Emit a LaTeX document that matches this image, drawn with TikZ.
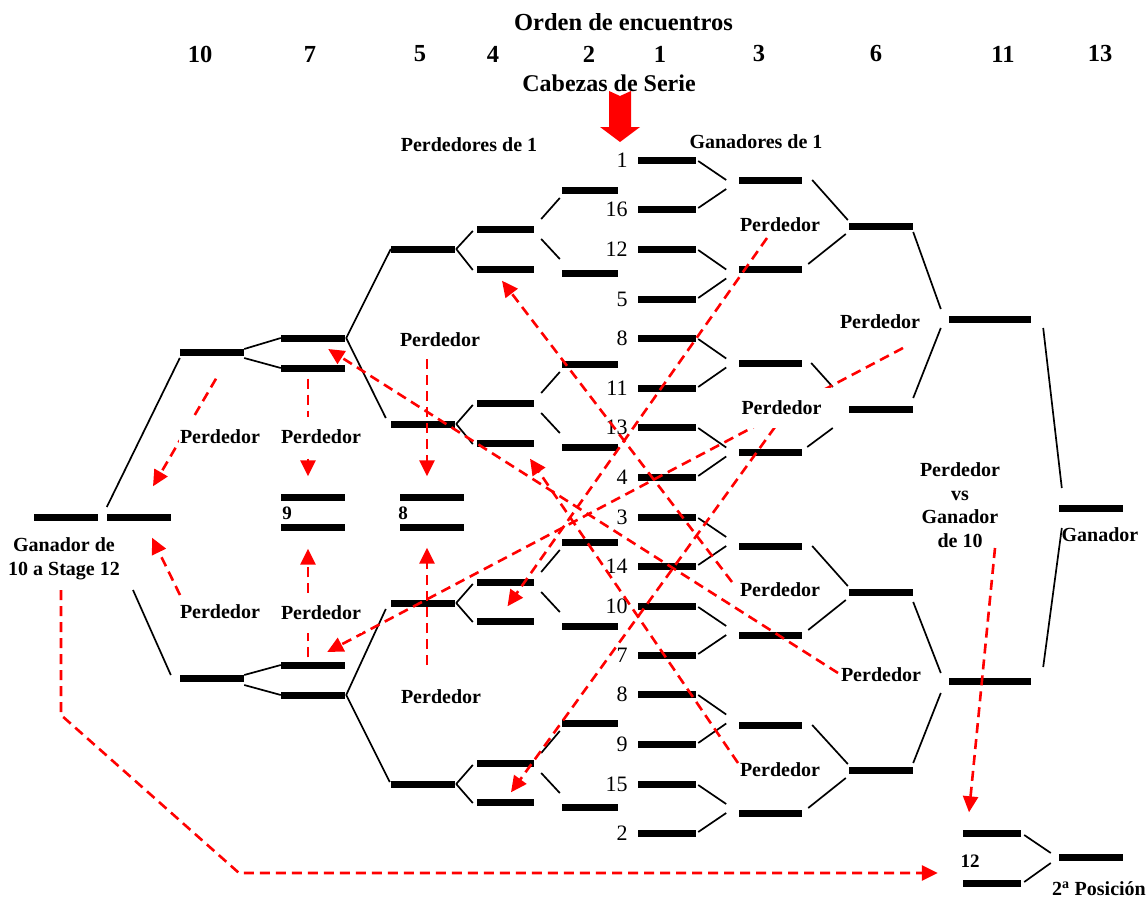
\documentclass[tikz,border=0pt]{standalone}
\usepackage{fontspec}
\setmainfont{Liberation Serif}
\usetikzlibrary{arrows.meta,calc}
\begin{document}
\begin{tikzpicture}[x=1pt,y=-1pt,
 bar/.style={fill=black,draw=none,inner sep=0pt,minimum height=7pt,minimum width=#1},
 bar/.default=64pt,
 conn/.style={line width=1.7pt},
 rd/.style={draw=red,line width=2.6pt,dash pattern=on 10pt off 6pt,-{Triangle[length=16pt,width=15pt,fill=red]}},
 lbl/.style={font=\fontsize{20}{23.5}\selectfont\bfseries,inner sep=1.5pt},
 wlbl/.style={lbl,fill=white},
 seed/.style={font=\fontsize{22}{24}\selectfont,inner sep=0pt},
 hdr/.style={font=\fontsize{24.5}{28}\selectfont\bfseries,inner sep=0pt}]
\useasboundingbox (0,0) rectangle (1148,899);

% ---------- headers ----------
\node[hdr] (title) at (623.5,22) {Orden de encuentros};
\foreach \x/\t [count=\i] in {200/10,310/7,420/5,493/4,589/2,660/1,759/3,876/6,1003/11,1100/13}
  \node[hdr] (h\i) at (\x,54) {\t};
\node[hdr,font=\fontsize{24}{28}\selectfont\bfseries] (cab) at (609,83) {Cabezas de Serie};
\fill[red] (609,91) -- (620,96) -- (631,91) -- (631,127) -- (640,127) -- (620,142) -- (600,127) -- (609,127) -- cycle;
\node[lbl] (perd1) at (469,145) {Perdedores de 1};
\node[lbl] (gan1) at (756,142) {Ganadores de 1};

% ---------- seeds ----------
\foreach \y/\t [count=\i] in {160/1,209/16,249/12,299/5,338/8,388/11,427/13,477/4,517/3,566/14,606/10,655/7,694/8,744/9,784/15,833/2}{
  \node[bar=58pt] (s\i) at (667,\y) {};
  \node[seed,anchor=east] (ns\i) at ($(s\i.west)+(-10,0)$) {\t};
}
% ---------- winners bracket ----------
\foreach \y [count=\i] in {180,269,363,452,546,635,725,813}
  \node[bar=63pt] (A\i) at (770.5,\y) {};
\foreach \y [count=\i] in {226,409,592,770}
  \node[bar] (B\i) at (881,\y) {};
\node[bar=82pt] (C1) at (990,319) {};
\node[bar=82pt] (C2) at (990,681) {};
\node[bar] (D) at (1091,508) {};
\node[bar=58pt] (F1) at (992,833) {};
\node[bar=58pt] (F2) at (992,883) {};
\node[bar] (P2) at (1091,857) {};

% ---------- losers bracket ----------
\foreach \y [count=\i] in {190,273,364,447,542,626,723,807}
  \node[bar=56pt] (p\i) at (590,\y) {};
\foreach \y [count=\i] in {229,269,403,443,582,621,763,802}
  \node[bar=57pt] (q\i) at (505.5,\y) {};
\foreach \y [count=\i] in {249,424,603,784}
  \node[bar] (r\i) at (423,\y) {};
\foreach \y [count=\i] in {338,368,665,695}
  \node[bar] (t\i) at (313,\y) {};
\node[bar] (u1) at (212,352) {};
\node[bar] (u2) at (212,678) {};
\node[bar] (G1) at (66,517) {};
\node[bar] (G2) at (139,517) {};
\node[bar] (m9a) at (313,497) {};
\node[bar] (m9b) at (313,527) {};
\node[bar] (m8a) at (432,497) {};
\node[bar] (m8b) at (432,527) {};

% ---------- black connectors ----------
\foreach \k/\a/\b in {1/1/2,2/3/4,3/5/6,4/7/8,5/9/10,6/11/12,7/13/14,8/15/16}{
  \draw[conn] ($(s\a.east)+(2,1)$) -- ($(s\a.east)!.5!(s\b.east)+(30,-4.5)$);
  \draw[conn] ($(s\b.east)+(2,-1)$) -- ($(s\a.east)!.5!(s\b.east)+(30,4.5)$);
}
\foreach \k/\a/\b in {1/1/2,3/5/6,4/7/8}{
  \draw[conn] ($(A\a.east)+(10,0)$) -- ($(B\k.west)+(-1,-6)$);
  \draw[conn] ($(A\b.east)+(6,-5)$) -- ($(B\k.west)+(-3,8)$);
}
\draw[conn] ($(A3.east)+(9,0)$) -- ($(B2.west)+(-16,-22)$);
\draw[conn] ($(A4.east)+(5,-5)$) -- ($(B2.west)+(-16,19)$);
\draw[conn] ($(B1.east)+(0,6)$) -- ($(C1.west)+(-8,-10)$);
\draw[conn] ($(B2.east)+(0,-11)$) -- ($(C1.west)+(-8,9)$);
\draw[conn] ($(B3.east)+(0,10)$) -- ($(C2.west)+(-8,-8)$);
\draw[conn] ($(B4.east)+(0,-7)$) -- ($(C2.west)+(-8,12)$);
\draw[conn] ($(C1.east)+(12,9)$) -- ($(D.west)+(3,-20)$);
\draw[conn] ($(C2.east)+(12,-14)$) -- ($(D.west)+(3,20)$);
\draw[conn] ($(F1.east)+(3,2)$) -- ($(P2.west)+(-8,-4)$);
\draw[conn] ($(F2.east)+(3,-1)$) -- ($(P2.west)+(-8,6)$);

\foreach \w/\a/\b in {1/1/2,3/3/4,5/5/6,7/7/8}{
  \draw[conn] ($(q\w.east)+(7,-10)$) -- ($(p\a.west)+(-2,8)$);
  \draw[conn] ($(q\w.east)+(7,10)$) -- ($(p\b.west)+(-2,-14)$);
}
\foreach \w/\a/\b in {1/1/2,2/3/4,3/5/6,4/7/8}{
  \draw[conn] ($(r\w.east)+(1,0)$) -- ($(q\a.west)+(-4,2)$);
  \draw[conn] ($(r\w.east)+(1,0)$) -- ($(q\b.west)+(-4,1)$);
}
\draw[conn] ($(t1.east)+(1,0)$) -- (r1.west);
\draw[conn] ($(t1.east)+(1,0)$) -- ($(r2.west)+(-5,-6)$);
\draw[conn] ($(t4.east)+(1,0)$) -- ($(r4.west)+(-1,-2)$);
\draw[conn] ($(t4.east)+(1,0)$) -- ($(r3.west)+(-5,6)$);
\draw[conn] ($(u1.east)+(0,-3)$) -- (t1.west);
\draw[conn] ($(u1.east)+(0,6)$) -- (t2.west);
\draw[conn] ($(u2.east)+(0,-3)$) -- (t3.west);
\draw[conn] ($(u2.east)+(0,7)$) -- (t4.west);
\draw[conn] ($(u1.west)+(0,6)$) -- ($(G2.west)+(0,-10)$);
\draw[conn] ($(u2.west)+(-9,-3)$) -- ($(G2.center)+(-6,73)$);

% ---------- label positions ----------
\path
  (780,225) coordinate (cP3a)
  (781.5,408) coordinate (cP3b)
  (780,590) coordinate (cP3c)
  (780,770) coordinate (cP3d)
  (880,322) coordinate (cP6a)
  (881,675) coordinate (cP6b)
  (440,340) coordinate (cP5a)
  (441,697) coordinate (cP5b)
  (321,437) coordinate (cP7a)
  (321,613) coordinate (cP7b)
  (220,437) coordinate (cP10a)
  (220,612) coordinate (cP10b)
  (64,559) coordinate (cGS)
  (960,505) coordinate (cPG)
  (61,715) coordinate (k1)
  (239,873) coordinate (k2);

% ---------- red dashed arrows ----------
\draw[rd] ($(cP5a)+(-13,19)$) -- ($(m8a.north)+(-5,-17)$);
\draw[rd] ($(cP5b)+(-14,-32)$) -- ($(m8b.south)+(-5,17)$);
\draw[rd] ($(t2.south)+(-5,7)$) -- ($(m9a.north)+(-5,-17)$);
\draw[rd] ($(t3.north)+(-5,-4)$) -- ($(m9b.south)+(-5,18)$);
\draw[rd] ($(u1.south)+(4,23)$) -- ($(G2.north)+(14,-27)$);
\draw[rd] ($(cP10b)+(-40,-17)$) -- ($(G2.south)+(13,17)$);
\draw[rd] ($(cP6b)+(-43,-2)$) -- ($(t2.east)+(-17,-19)$);
\draw[rd] ($(cP6a)+(23,26)$) -- ($(t3.east)+(-18,-13)$);
\draw[rd] ($(cP3a)+(-13,13)$) -- ($(q6.north)+(2,-11)$);
\draw[rd] ($(cP3b)+(-6.5,19)$) -- ($(q8.north)+(5.5,-6)$);
\draw[rd] ($(cP3c)+(-48,-8)$) -- ($(q2.south)+(-3.5,8)$);
\draw[rd] ($(cP3d)+(-42,-7)$) -- ($(q4.south)+(24.5,12)$);
\draw[rd] ($(cPG)+(35,43)$) -- ($(F1.north)+(-23,-17)$);
\draw[rd] ($(cGS)+(-3,31)$) -- (k1) -- (k2) -- ($(F2.west)+(-25,-10)$);

% ---------- labels ----------
\node[wlbl] (P3a) at (cP3a) {Perdedor};
\node[wlbl,minimum width=97pt,minimum height=40pt] (P3b) at (cP3b) {Perdedor};
\node[wlbl] (P3c) at (cP3c) {Perdedor};
\node[wlbl] (P3d) at (cP3d) {Perdedor};
\node[wlbl] (P6a) at (cP6a) {Perdedor};
\node[wlbl] (P6b) at (cP6b) {Perdedor};
\node[wlbl] (P5a) at (cP5a) {Perdedor};
\node[wlbl] (P5b) at (cP5b) {Perdedor};
\node[wlbl,minimum height=40pt] (P7a) at (cP7a) {Perdedor};
\node[wlbl,minimum height=40pt] (P7b) at (cP7b) {Perdedor};
\node[wlbl,minimum height=42pt] (P10a) at (cP10a) {Perdedor};
\node[wlbl] (P10b) at (cP10b) {Perdedor};
\node[lbl,align=center] (GS) at (cGS) {Ganador de\\10 a Stage 12};
\node[lbl,align=center] (PG) at (cPG) {Perdedor\\vs\\Ganador\\de 10};
\node[lbl] (gan) at (1100,535) {Ganador};
\node[lbl] (pos2) at (1099,889) {2\textsuperscript{a} Posición};
\node[lbl,font=\fontsize{19}{22}\selectfont\bfseries] (n9) at (287,513) {9};
\node[lbl,font=\fontsize{19}{22}\selectfont\bfseries] (n8) at (403,513) {8};
\node[lbl,font=\fontsize{19}{22}\selectfont\bfseries] (n12) at (970,861) {12};
\end{tikzpicture}
\end{document}
